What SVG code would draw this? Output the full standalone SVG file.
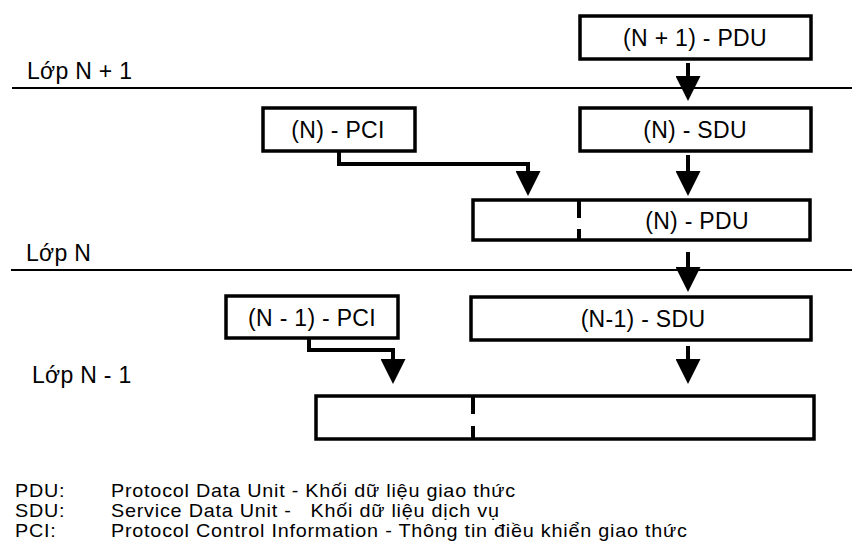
<svg xmlns="http://www.w3.org/2000/svg" width="852" height="542" viewBox="0 0 852 542">
  <style>
    .box { fill: #ffffff; stroke: #000000; stroke-width: 3.5; }
    .lbl { font-family: "Liberation Sans", Arial, sans-serif; font-size: 23px; letter-spacing: 0.3px; fill: #000000; }
    .mid { text-anchor: middle; }
    .leg { font-family: "Liberation Sans", Arial, sans-serif; font-size: 18px; letter-spacing: 0.7px; fill: #000000; }
    .layer { stroke: #000000; stroke-width: 2; }
    .conn { fill: none; stroke: #000000; stroke-width: 4; stroke-linejoin: miter; marker-end: url(#ah); }
    .div { stroke: #000000; stroke-width: 4; }
  </style>
  <defs>
    <marker id="ah" markerUnits="userSpaceOnUse" markerWidth="25" markerHeight="25" viewBox="0 0 25 25" refX="21" refY="12.5" orient="auto">
      <path d="M0,0 L25,12.5 L0,25 Z" fill="#000000"/>
    </marker>
  </defs>

  <g id="layers">
    <line class="layer" x1="12" y1="88" x2="852" y2="88"/>
    <line class="layer" x1="11" y1="270" x2="852" y2="270"/>
    <text class="lbl" x="27" y="79">Lớp N + 1</text>
    <text class="lbl" x="26" y="261">Lớp N</text>
    <text class="lbl" x="32" y="383">Lớp N - 1</text>
  </g>

  <g id="n1-pdu">
    <rect class="box" x="580" y="16" width="231" height="43"/>
    <text class="lbl mid" x="695" y="45.5">(N + 1) - PDU</text>
  </g>

  <g id="n-pci">
    <rect class="box" x="263" y="108" width="152" height="43"/>
    <text class="lbl mid" x="338" y="137.5">(N) - PCI</text>
  </g>

  <g id="n-sdu">
    <rect class="box" x="580" y="108" width="231" height="43"/>
    <text class="lbl mid" x="695" y="137.5">(N) - SDU</text>
  </g>

  <g id="n-pdu">
    <rect class="box" x="473" y="200" width="337" height="40"/>
    <line class="div" x1="579" y1="200" x2="579" y2="218"/>
    <line class="div" x1="579" y1="229" x2="579" y2="240"/>
    <text class="lbl mid" x="697" y="228.5">(N) - PDU</text>
  </g>

  <g id="n-1-pci">
    <rect class="box" x="226" y="296" width="172" height="42"/>
    <text class="lbl mid" x="312" y="325.5">(N - 1) - PCI</text>
  </g>

  <g id="n-1-sdu">
    <rect class="box" x="471" y="297" width="340" height="43"/>
    <text class="lbl mid" x="643" y="326.5">(N-1) - SDU</text>
  </g>

  <g id="n-1-pdu">
    <rect class="box" x="316" y="396" width="498" height="43"/>
    <line class="div" x1="473" y1="396" x2="473" y2="414"/>
    <line class="div" x1="473" y1="426" x2="473" y2="439"/>
  </g>

  <g id="connectors">
    <path class="conn" d="M688,63 V97"/>
    <path class="conn" d="M339,151 V164 H528 V192"/>
    <path class="conn" d="M688,155 V192"/>
    <path class="conn" d="M688,252 V288"/>
    <path class="conn" d="M309,338 V350 H393 V380"/>
    <path class="conn" d="M688,346 V380"/>
  </g>

  <g id="legend">
    <text class="leg" transform="translate(15,497) scale(1.1,1)">PDU:</text>
    <text class="leg" transform="translate(111,497) scale(1.1,1)">Protocol Data Unit - Khối dữ liệu giao thức</text>
    <text class="leg" transform="translate(15,517) scale(1.1,1)">SDU:</text>
    <text class="leg" transform="translate(111,517) scale(1.1,1)" xml:space="preserve">Service Data Unit -   Khối dữ liệu dịch vụ</text>
    <text class="leg" transform="translate(15,537) scale(1.1,1)">PCI:</text>
    <text class="leg" transform="translate(111,537) scale(1.1,1)">Protocol Control Information - Thông tin điều khiển giao thức</text>
  </g>
</svg>
